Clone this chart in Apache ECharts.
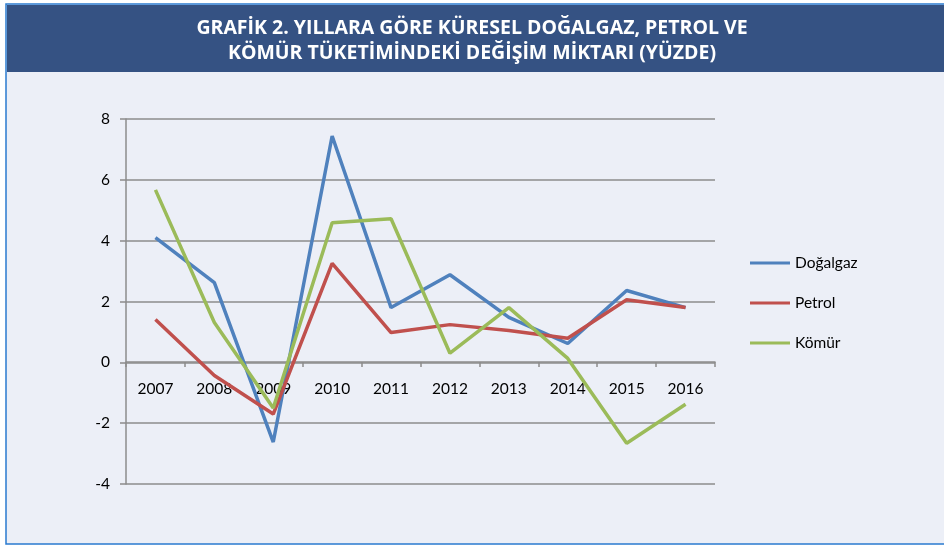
<!DOCTYPE html>
<html>
<head>
<meta charset="utf-8">
<script src="https://cdn.jsdelivr.net/npm/echarts@6/dist/echarts.min.js"></script>
<style>
  html, body { margin: 0; padding: 0; background: #fff; }
  #chart { width: 944px; height: 546px; }
</style>
</head>
<body>
<div id="chart"></div>
<script>
// years and yearly change (%)
let years = ['2007', '2008', '2009', '2010', '2011', '2012', '2013', '2014', '2015', '2016']
let dogalgaz = [4.1, 2.62, -2.62, 7.44, 1.8, 2.88, 1.48, 0.62, 2.36, 1.8]
let petrol = [1.41, -0.43, -1.7, 3.25, 0.98, 1.24, 1.05, 0.79, 2.06, 1.8]
let komur = [5.67, 1.31, -1.5, 4.59, 4.72, 0.3, 1.8, 0.13, -2.66, -1.38]
let seriesNames = ['Doğalgaz', 'Petrol', 'Kömür']
let colors = ['#4F81BD', '#C0504D', '#9BBB59']

let dom = document.getElementById('chart')
let myChart = echarts.init(dom, null, { renderer: 'canvas' })

let font = 'Lato, "Open Sans", sans-serif'
let gridColor = '#8C8C8C'

function lineSeries(name, data, color) {
    return {
        name: name,
        type: 'line',
        data: data,
        symbol: 'none',
        lineStyle: { color: color, width: 3.5 },
        itemStyle: { color: color }
    }
}

let option = {
    animation: false,
    color: colors,
    graphic: [
        // page background and frame
        { type: 'rect', z: -10, shape: { x: 6, y: 4, width: 944, height: 540 },
          style: { fill: '#ECEFF7', stroke: '#2A7BCF', lineWidth: 1.5 } },
        // title band
        { type: 'rect', z: -9, shape: { x: 7, y: 5, width: 940, height: 67 },
          style: { fill: '#355283' } },
        { type: 'text', z: 5, left: 'center', top: 16,
          style: {
              text: 'GRAFİK 2. YILLARA GÖRE KÜRESEL DOĞALGAZ, PETROL VE\nKÖMÜR TÜKETİMİNDEKİ DEĞİŞİM MİKTARI (YÜZDE)',
              fill: '#FFFFFF', font: 'bold 19.5px "Open Sans", sans-serif',
              textAlign: 'center', lineHeight: 25
          } }
    ],
    grid: { left: 126, right: 229, top: 119, bottom: 62, containLabel: false },
    legend: {
        orient: 'vertical',
        left: 750,
        top: 255,
        padding: 0,
        itemWidth: 40,
        itemHeight: 14,
        itemGap: 24,
        data: seriesNames.map(function (n) { return { name: n, icon: 'path://M0,6 L40,6 L40,9 L0,9 Z' } }),
        textStyle: { fontFamily: font, fontSize: 15.5, color: '#000' }
    },
    xAxis: {
        type: 'category',
        data: years,
        boundaryGap: true,
        offset: -122,
        axisLine: { onZero: false, lineStyle: { color: gridColor, width: 1.5 } },
        axisTick: { show: true, length: 5, inside: false, lineStyle: { color: gridColor, width: 1.5 } },
        axisLabel: { fontFamily: font, fontSize: 15.5, color: '#000', margin: 19, interval: 0 },
        splitLine: { show: false }
    },
    yAxis: {
        type: 'value',
        min: -4,
        max: 8,
        interval: 2,
        axisLine: { show: true, lineStyle: { color: gridColor, width: 1.5 } },
        axisTick: { show: true, length: 6, lineStyle: { color: gridColor, width: 1.5 } },
        axisLabel: { fontFamily: font, fontSize: 15.5, color: '#000', margin: 16 },
        splitLine: { show: true, lineStyle: { color: gridColor, width: 1.5 } }
    },
    series: [
        lineSeries(seriesNames[0], dogalgaz, colors[0]),
        lineSeries(seriesNames[1], petrol, colors[1]),
        lineSeries(seriesNames[2], komur, colors[2])
    ]
}

myChart.setOption(option)
</script>
</body>
</html>
